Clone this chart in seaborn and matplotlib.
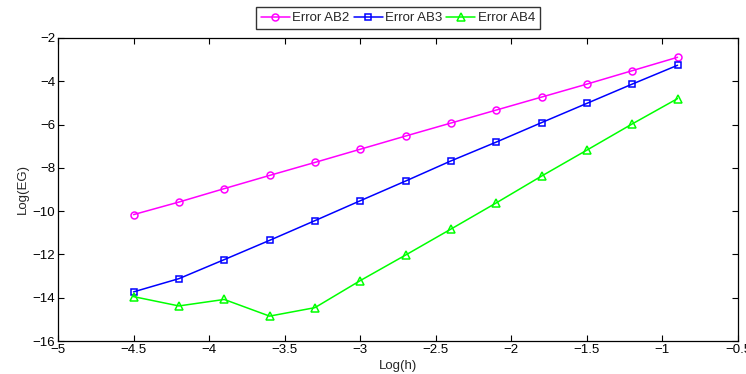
import matplotlib
matplotlib.use("Agg")
import matplotlib.pyplot as plt
import seaborn as sns
import pandas as pd

log_h = [-4.5, -4.2, -3.9, -3.6, -3.3, -3.0, -2.7, -2.4, -2.1, -1.8, -1.5, -1.2, -0.9]
err_ab2 = [-10.16, -9.58, -8.96, -8.35, -7.75, -7.14, -6.53, -5.93, -5.33, -4.73, -4.13, -3.51, -2.89]
err_ab3 = [-13.73, -13.12, -12.24, -11.35, -10.44, -9.52, -8.61, -7.68, -6.81, -5.91, -5.02, -4.13, -3.26]
err_ab4 = [-13.95, -14.38, -14.08, -14.85, -14.46, -13.21, -12.03, -10.83, -9.62, -8.38, -7.18, -5.97, -4.80]
series_names = ["Error AB2", "Error AB3", "Error AB4"]
x_ticks = [-5, -4.5, -4, -3.5, -3, -2.5, -2, -1.5, -1, -0.5]
y_ticks = [-16, -14, -12, -10, -8, -6, -4, -2]

sns.set_style("ticks")
plt.rcParams['font.family'] = ['Liberation Sans', 'DejaVu Sans']
plt.rcParams['axes.unicode_minus'] = True

fig = plt.figure(figsize=(7.46, 3.74), dpi=100)
ax = fig.add_axes([58/746, 1 - 341/374, (738-58)/746, (341-38)/374])

colors = ["#ff00ff", "#0000ff", "#00ff00"]
markers = ["o", "s", "^"]
msizes = [5, 4, 6]
for name, vals, c, m, ms in zip(series_names, [err_ab2, err_ab3, err_ab4], colors, markers, msizes):
    df = pd.DataFrame({"x": log_h, "y": vals})
    sns.lineplot(data=df, x="x", y="y", ax=ax, color=c, marker=m, markersize=ms,
                 markerfacecolor="none", markeredgecolor=c, markeredgewidth=1.1,
                 linewidth=1.1, label=name)

fs = 9.5
ax.set_xlim(-5, -0.5)
ax.set_ylim(-16, -2)
ax.set_xticks(x_ticks)
ax.set_yticks(y_ticks)
ax.set_xticklabels([f"{t:g}".replace("-", "\u2212") for t in x_ticks])
ax.set_yticklabels([f"{t:g}".replace("-", "\u2212") for t in y_ticks])
ax.tick_params(direction="in", top=True, right=True, length=4, width=0.8,
               labelsize=fs, colors="black", pad=2)
for s in ax.spines.values():
    s.set_visible(True)
    s.set_color("black")
    s.set_linewidth(0.9)
ax.set_xlabel("Log(h)", fontsize=fs, labelpad=3)
ax.set_ylabel("Log(EG)", fontsize=fs, labelpad=3)

leg = ax.legend(loc="lower center", bbox_to_anchor=(0.5, 1.03), ncol=3, frameon=True,
                fancybox=False, edgecolor="black", fontsize=fs, handlelength=2.2,
                handletextpad=0.2, columnspacing=0.3, borderpad=0.35, borderaxespad=0)
leg.get_frame().set_linewidth(1.0)

fig.savefig("out.png", dpi=100)
